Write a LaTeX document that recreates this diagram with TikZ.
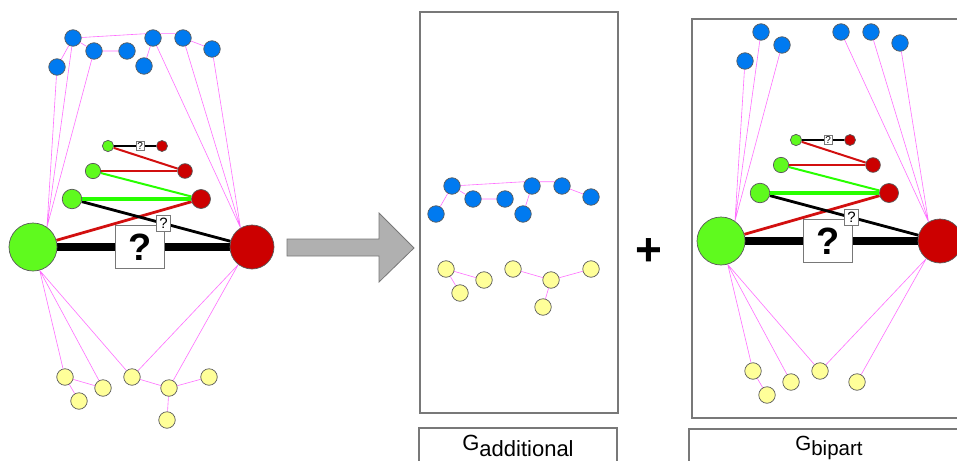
\documentclass[tikz,border=0pt]{standalone}
\usepackage{fontspec}
\setmainfont{Liberation Sans}
\definecolor{nodegreen}{RGB}{95,250,30}
\definecolor{nodered}{RGB}{204,0,0}
\definecolor{nodeblue}{RGB}{0,122,240}
\definecolor{nodeyellow}{RGB}{255,255,153}
\definecolor{linkpink}{RGB}{255,110,255}
\definecolor{edgegreen}{RGB}{40,255,0}
\definecolor{edgered}{RGB}{210,15,15}
\definecolor{framegray}{RGB}{120,120,120}
\definecolor{arrowfill}{RGB}{176,176,176}
\definecolor{arrowline}{RGB}{120,120,120}
\pgfdeclarelayer{links}
\pgfdeclarelayer{edges}
\pgfsetlayers{links,edges,main}

\tikzset{
  vertex/.style={circle, draw=black!65, line width=0.7pt, inner sep=0pt},
  bluev/.style={vertex, fill=nodeblue, minimum size=16.5pt},
  yellowv/.style={vertex, fill=nodeyellow, minimum size=16.5pt},
  greenv/.style={vertex, fill=nodegreen},
  redv/.style={vertex, fill=nodered},
  link/.style={draw=linkpink, line width=0.6pt},
  qbox/.style={draw=framegray, fill=white, inner sep=0pt, line width=0.7pt},
  bigq/.style={qbox, minimum width=49pt, minimum height=43pt,
    font=\fontsize{38}{38}\selectfont\bfseries},
  midq/.style={qbox, minimum width=13.5pt, minimum height=16.5pt,
    font=\fontsize{15}{15}\selectfont},
  tinyq/.style={qbox, minimum width=8.5pt, minimum height=9.5pt,
    font=\fontsize{10}{10}\selectfont},
  frame/.style={draw=framegray, line width=1.1pt},
  caption/.style={anchor=base, inner sep=0pt},
}

% the pair of hubs with the weighted green/red ladder between them
\newcommand\huboutline{%
  \node[greenv, minimum size=48pt] (G) at (33,247) {};
  \node[redv, minimum size=44pt] (R) at (252,247) {};
  \node[greenv, minimum size=19.5pt] (g3) at (72,199) {};
  \node[redv, minimum size=19pt] (r3) at (201,199) {};
  \node[greenv, minimum size=15.3pt] (g2) at (93,171) {};
  \node[redv, minimum size=14.7pt] (r2) at (185,171) {};
  \node[greenv, minimum size=11.3pt] (g1) at (108,146) {};
  \node[redv, minimum size=11pt] (r1) at (162,146) {};
  \begin{pgfonlayer}{edges}
    \draw[black, line width=8pt] (G) -- node[pos=0.48, bigq] (q0) {?} (R);
    \draw[edgered, line width=2.8pt] (r3) -- (G);
    \draw[black, line width=2.8pt] (g3) -- node[pos=0.55, midq] (q1) {?} (R);
    \draw[edgegreen, line width=3.5pt] (g3) -- (r3);
    \draw[edgegreen, line width=2pt] (g2) -- (r3);
    \draw[edgered, line width=2pt] (g2) -- (r2);
    \draw[edgered, line width=2pt] (g1) -- (r2);
    \draw[black, line width=1.8pt] (g1) -- node[pos=0.62, tinyq] (q2) {?} (r1);
  \end{pgfonlayer}
}

% links from the hubs to the outer vertices, gathered at fixed border points
\newcommand\hublinks{%
  \draw[link] (b1) -- (G.55) (b2) -- (G.55) (b3) -- (G.55)
    (b5) -- (R.121) (b7) -- (R.121) (b8) -- (R.121);
  \draw[link] (G.-74) -- (y1) (G.-74) -- (y3) (G.-74) -- (y4)
    (R.-128) -- (y4) (R.-128) -- (y5);
}

\begin{document}
\begin{tikzpicture}[x=1pt, y=-1pt]
\useasboundingbox (0,0) rectangle (957,460);

% ---------- original graph ----------
\begin{scope}[name prefix=L-]
  \huboutline
  \node[bluev] (b1) at (73,38) {};
  \node[bluev] (b2) at (94,51) {};
  \node[bluev] (b3) at (57,67) {};
  \node[bluev] (b4) at (127,51) {};
  \node[bluev] (b5) at (153,38) {};
  \node[bluev] (b6) at (144,66) {};
  \node[bluev] (b7) at (183,38) {};
  \node[bluev] (b8) at (212,49) {};
  \node[yellowv] (y1) at (65,377) {};
  \node[yellowv] (y2) at (79,401) {};
  \node[yellowv] (y3) at (103,388) {};
  \node[yellowv] (y4) at (132,377) {};
  \node[yellowv] (y5) at (169,388) {};
  \node[yellowv] (y6) at (167,420) {};
  \node[yellowv] (y7) at (209,377) {};
  \begin{pgfonlayer}{links}
    \draw[link] (b1) -- (b5.150) (b5.30) -- (b7.150)
      (b1) -- (b2) (b1) -- (b3) (b2) -- (b4) (b5) -- (b6) (b7) -- (b8);
    \draw[link] (y1) -- (y2) (y1) -- (y3) (y4) -- (y5) (y5) -- (y6) (y5) -- (y7);
    \hublinks
  \end{pgfonlayer}
\end{scope}

% ---------- transformation arrow ----------
\draw[fill=arrowfill, draw=arrowline, line width=0.8pt]
  (287,239) -- (379,239) -- (379,213) -- (414,248) -- (379,282)
  -- (379,256) -- (287,256) -- cycle;

% ---------- additional graph ----------
\draw[frame] (420,12) rectangle (618,413);
\draw[frame] (419,428) rectangle (617,475);
\node[caption, font=\fontsize{22}{26}\selectfont] (addcap) at (518,450)
  {G\raisebox{-6.5pt}{additional}};
\begin{scope}[name prefix=M-]
  \node[bluev] (b1) at (452,186) {};
  \node[bluev] (b2) at (473,199) {};
  \node[bluev] (b3) at (436,214) {};
  \node[bluev] (b4) at (505,199) {};
  \node[bluev] (b5) at (532,186) {};
  \node[bluev] (b6) at (523,214) {};
  \node[bluev] (b7) at (562,186) {};
  \node[bluev] (b8) at (591,197) {};
  \node[yellowv] (y1) at (446,269) {};
  \node[yellowv] (y2) at (460,293) {};
  \node[yellowv] (y3) at (484,280) {};
  \node[yellowv] (y4) at (513,269) {};
  \node[yellowv] (y5) at (551,280) {};
  \node[yellowv] (y6) at (543,307) {};
  \node[yellowv] (y7) at (591,269) {};
  \begin{pgfonlayer}{links}
    \draw[link] (b1) -- (b5.150) (b5.30) -- (b7.150)
      (b1) -- (b2) (b1) -- (b3) (b2) -- (b4) (b5) -- (b6) (b7) -- (b8);
    \draw[link] (y1) -- (y2) (y1) -- (y3) (y4) -- (y5) (y5) -- (y6) (y5) -- (y7);
  \end{pgfonlayer}
\end{scope}

\node[font=\fontsize{46}{46}\selectfont\bfseries] (plus) at (649,252) {+};

% ---------- bipartite graph ----------
\draw[frame] (692,19) rectangle (965,418);
\draw[frame] (689,429) rectangle (965,475);
\node[caption, font=\fontsize{20.5}{24}\selectfont] (bipcap) at (829,450)
  {G\raisebox{-5.5pt}{bipart}};
\begin{scope}[shift={(688,-6)}, name prefix=P-]
  \huboutline
  \node[bluev] (b1) at (73,38) {};
  \node[bluev] (b2) at (94,51) {};
  \node[bluev] (b3) at (57,67) {};
  \node[bluev] (b5) at (153,38) {};
  \node[bluev] (b7) at (183,38) {};
  \node[bluev] (b8) at (212,49) {};
  \node[yellowv] (y1) at (65,377) {};
  \node[yellowv] (y2) at (79,401) {};
  \node[yellowv] (y3) at (103,388) {};
  \node[yellowv] (y4) at (132,377) {};
  \node[yellowv] (y5) at (169,388) {};
  \begin{pgfonlayer}{links}
    \draw[link] (y1) -- (y2);
    \hublinks
  \end{pgfonlayer}
\end{scope}
\end{tikzpicture}
\end{document}
